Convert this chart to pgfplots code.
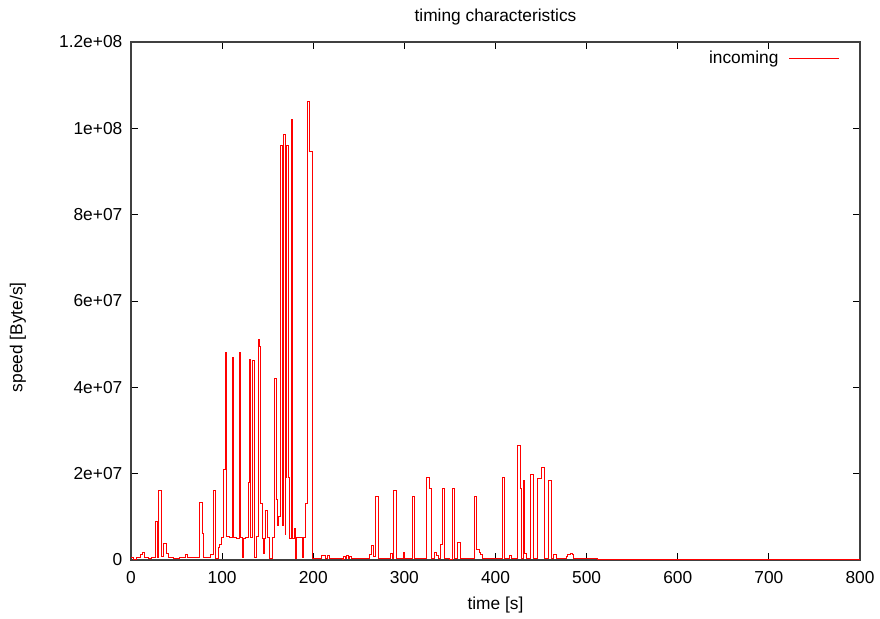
\documentclass[border=0pt]{standalone}
\usepackage{pgfplots}
\pgfplotsset{compat=1.18}
\usepackage{fontspec}
\setmainfont{Liberation Sans}
\pgfplotstableread{
t y
0 5e5
3 2e5
6 6e5
10 1.2e6
13 1.8e6
15 6e5
19 3e5
22 5e5
26.5 8.9e6
29.5 5e5
30 1.6e7
33 8e5
36 3.9e6
39 1.5e6
41 5e5
47 3e5
53 5e5
60 1.2e6
62 5e5
75.5 1.34e7
78 6.2e6
80 5e5
87.5 1.2e6
90.5 1.6e7
93 3e5
95.5 2.9e6
97.5 3.5e6
99.5 5.3e6
102 2.1e7
103.5 4.8e7
105 5.5e6
108 5.3e6
111.5 4.68e7
113 5.3e6
116 5.0e6
119 4.8e7
120.5 5.2e6
122 5e5
124 5.0e6
126 5.3e6
129 1.8e7
130 4.65e7
131.5 5.3e6
133 4.63e7
135 5.0e6
136 5e5
138 5.5e6
139.5 5.1e7
141 4.94e7
142.5 1.3e7
144 5.0e6
145.5 1.5e6
147 5.0e6
148 1.15e7
149.5 5.2e6
152 3e5
155 5.2e6
157.3 4.2e7
160 1.4e7
161 8e6
162 1.0e7
163.6 9.6e7
166 8e6
167 9.85e7
169 6e6
170 1.9e7
170.8 9.6e7
172.6 1.9e7
173.5 5e6
175.6 1.02e8
177.4 5e6
179 7.3e6
180 3e5
182 5.2e6
186 5.3e6
188 5e5
189 5.2e6
191 1.3e7
194 1.063e8
195.7 9.46e7
199 4e5
209.5 1.0e6
213 4e5
216 1.0e6
218 4e5
232 2e5
233 8e5
235 4e5
237 1.0e6
238.5 3e5
240 9e5
241.5 3e5
244 4e5
250 3e5
258 4e5
262 1.3e6
263.5 3.3e6
266 8e5
268.5 1.47e7
271.5 4e5
278 3e5
284.5 1.5e6
286.5 4e5
288.5 1.6e7
291.5 4e5
298.5 1.8e6
300.5 4e5
308.5 1.47e7
311 4e5
319 4e5
324.5 1.92e7
328 1.66e7
330 3e5
333.5 1.8e6
335 1.0e6
337 4e5
340 3.5e6
342 1.66e7
344 4e5
349 2e5
353 1.66e7
355 4e5
358.5 4.1e6
361.5 4e5
364 3e5
372 4e5
377.5 1.47e7
379.5 2.5e6
382 1.8e6
384 1.2e6
386 4e5
394 3e5
399 4e5
407.5 1.91e7
410 4e5
415 1.0e6
418 4e5
424.3 2.65e7
427.3 1.66e7
429 3e5
430.5 1.85e7
432 1.5e6
434 4e5
438.2 1.99e7
441.2 4e5
446.3 1.89e7
448.8 1.89e7
450 2.14e7
453.5 4e5
458.7 1.85e7
461.2 4e5
464 1.3e6
466.5 4e5
478 8e5
479.5 1.3e6
482 1.6e6
484 1.2e6
486 4e5
490 4e5
512 5e4
800 5e4
}\incoming
\begin{document}
\begin{tikzpicture}[font=\fontsize{13}{15.5}\selectfont]
\useasboundingbox (-98.25pt,-43.5pt) rectangle (561.75pt,420pt);
\begin{axis}[
  at={(0pt,0pt)}, anchor=south west,
  scale only axis,
  width=546.75pt, height=388.5pt,
  xmin=0, xmax=800, ymin=0, ymax=1.2e8,
  xtick={0,100,...,800},
  xticklabels={0,100,200,300,400,500,600,700,800},
  ytick={0,2e7,4e7,6e7,8e7,1e8,1.2e8},
  yticklabels={0,2e+07,4e+07,6e+07,8e+07,1e+08,1.2e+08},
  scaled y ticks=false,
  tick align=inside,
  xtick pos=both, ytick pos=both,
  major tick length=5.25pt,
  tick style={black, line width=0.6pt},
  axis line style={black!75, line width=0.8pt},
  xticklabel style={yshift=-5pt},
  yticklabel style={xshift=-3pt},
  title={timing characteristics},
  xlabel={time [s]},
  ylabel={speed [Byte/s]},
  every axis title/.style={at={(rel axis cs:0.5,1)}, anchor=center, yshift=18.75pt},
  every axis x label/.style={at={(rel axis cs:0.5,0)}, anchor=center, yshift=-33.75pt},
  every axis y label/.style={at={(rel axis cs:0,0.43)}, anchor=center, rotate=90, yshift=84.75pt},
  legend plot pos=right,
  legend style={draw=none, fill=none, at={(rel axis cs:0.9726,0.9691)}, anchor=east, inner xsep=0pt, inner ysep=0pt, cells={anchor=east}},
  legend image code/.code={\path (0cm,0cm); \draw[#1] (0.2cm,0cm) -- (1.52cm,0cm);},
]
\addplot[red, line width=0.75pt, const plot] table[x=t, y=y] {\incoming};
\addlegendentry{incoming}
\end{axis}
\end{tikzpicture}
\end{document}
